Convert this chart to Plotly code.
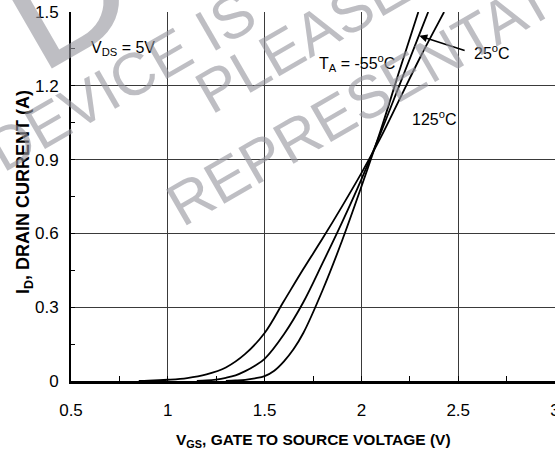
import plotly.graph_objects as go

# ---- data ----
vgs_m55 = [1.30, 1.35, 1.40, 1.45, 1.50, 1.55, 1.60, 1.65, 1.70, 1.80, 1.90, 2.00, 2.10, 2.20, 2.294]
id_m55  = [0.0, 0.002, 0.005, 0.011, 0.020, 0.042, 0.080, 0.130, 0.195, 0.370, 0.570, 0.790, 1.020, 1.270, 1.50]

vgs_25 = [1.15, 1.20, 1.25, 1.30, 1.35, 1.40, 1.45, 1.50, 1.60, 1.70, 1.80, 1.90, 2.00, 2.10, 2.20, 2.30, 2.345]
id_25  = [0.0, 0.002, 0.006, 0.013, 0.023, 0.040, 0.062, 0.090, 0.190, 0.320, 0.480, 0.645, 0.820, 1.010, 1.210, 1.410, 1.50]

vgs_125 = [0.85, 0.90, 1.00, 1.10, 1.20, 1.30, 1.40, 1.50, 1.60, 1.70, 1.80, 1.90, 2.00, 2.10, 2.20, 2.30, 2.40, 2.427]
id_125  = [0.0, 0.001, 0.005, 0.012, 0.027, 0.055, 0.110, 0.195, 0.325, 0.455, 0.580, 0.710, 0.845, 0.990, 1.150, 1.310, 1.460, 1.50]

x_tickvals = [0.5, 1, 1.5, 2, 2.5, 3]
x_ticktext = ["0.5", "1", "1.5", "2", "2.5", "3"]
y_tickvals = [0, 0.3, 0.6, 0.9, 1.2, 1.5]
y_ticktext = ["0", "0.3", "0.6", "0.9", "1.2", "1.5"]

SANS = "Liberation Sans, Arial, sans-serif"

fig = go.Figure()
for xs, ys in [(vgs_m55, id_m55), (vgs_25, id_25), (vgs_125, id_125)]:
    fig.add_trace(go.Scatter(x=xs, y=ys, mode="lines",
                             line=dict(color="black", width=1.8, shape="spline", smoothing=1.0),
                             showlegend=False, hoverinfo="skip"))

fig.update_layout(
    width=555, height=460,
    margin=dict(l=71, r=0, t=12, b=79),
    paper_bgcolor="white", plot_bgcolor="white",
    font=dict(family=SANS, size=16, color="black"),
    xaxis=dict(range=[0.5, 3.0], tickmode="array", tickvals=x_tickvals, ticktext=x_ticktext,
               showgrid=True, gridcolor="#3a3a3a", gridwidth=1,
               showline=True, linecolor="black", linewidth=2.6,
               ticks="inside", ticklen=5, tickcolor="black",
               minor=dict(ticks="inside", ticklen=5, tickcolor="black", dtick=0.25, tick0=0.5, showgrid=False),
               zeroline=False, ticklabelstandoff=12, ticklabeloverflow="allow",
               tickfont=dict(family=SANS, size=17), automargin=False, fixedrange=True),
    yaxis=dict(range=[0, 1.5], tickmode="array", tickvals=y_tickvals, ticktext=y_ticktext,
               showgrid=True, gridcolor="#3a3a3a", gridwidth=1,
               showline=True, linecolor="black", linewidth=2,
               ticks="inside", ticklen=4, tickcolor="black",
               minor=dict(ticks="inside", ticklen=4, tickcolor="black", dtick=0.15, tick0=0, showgrid=False),
               zeroline=False, ticklabelstandoff=7, ticklabeloverflow="allow",
               tickfont=dict(family=SANS, size=17), automargin=False, fixedrange=True),
)

ann = []
# axis titles
ann.append(dict(text="<b>V<sub>GS</sub>, GATE TO SOURCE VOLTAGE (V)</b>", xref="paper", yref="paper",
                x=0.5, y=-0.1626, xanchor="center", yanchor="middle", showarrow=False,
                font=dict(family=SANS, size=15.5)))
ann.append(dict(text="<b>I<sub>D</sub>, DRAIN CURRENT (A)</b>", xref="paper", yref="paper",
                x=-0.097, y=0.512, xanchor="center", yanchor="middle", showarrow=False, textangle=-90,
                font=dict(family=SANS, size=18)))
# in-plot labels
ann.append(dict(text="V<sub>DS</sub> = 5V", x=0.593, y=1.35, xanchor="left", yanchor="middle",
                showarrow=False, font=dict(family=SANS, size=16)))
ann.append(dict(text="T<sub>A</sub> = -55<sup>o</sup>C", x=1.771, y=1.293, xanchor="left", yanchor="middle",
                showarrow=False, font=dict(family=SANS, size=16)))
ann.append(dict(text="25<sup>o</sup>C", x=2.571, y=1.337, xanchor="left", yanchor="middle",
                showarrow=False, font=dict(family=SANS, size=16)))
ann.append(dict(text="125<sup>o</sup>C", x=2.251, y=1.069, xanchor="left", yanchor="middle",
                showarrow=False, font=dict(family=SANS, size=16)))
ann.append(dict(text="", x=2.299, y=1.403, ax=2.541, ay=1.342, axref="x", ayref="y",
                showarrow=True, arrowhead=2, arrowsize=1, arrowwidth=1.6, arrowcolor="black"))

# watermark
wm = "rgba(150,150,158,0.62)"
for txt, px, py, size in [("DEVICE IS", 121, 81, 60), ("PLEASE", 302, 40, 60),
                          ("REPRESENTATIVE", 402, 78, 60), ("D", 63, -6, 170)]:
    ann.append(dict(text=txt, xref="paper", yref="paper",
                    x=(px - 71) / 484, y=(381 - py) / 369, xanchor="center", yanchor="middle",
                    showarrow=False, textangle=-30, font=dict(family=SANS, size=size, color=wm)))

fig.update_layout(annotations=ann)
fig.write_html("out.html", config={"displayModeBar": False},
               post_script="document.body.style.margin='0px';document.body.style.overflow='hidden';")
